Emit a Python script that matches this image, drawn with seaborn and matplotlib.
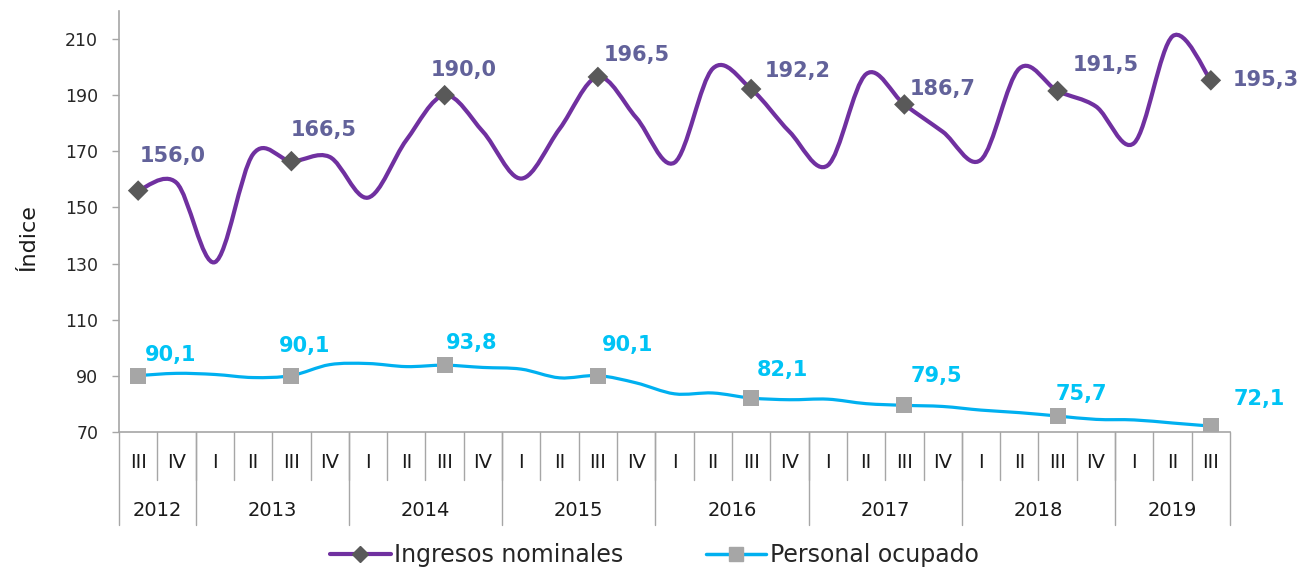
import matplotlib
matplotlib.use('Agg')
import numpy as np
import pandas as pd
import matplotlib.pyplot as plt
import seaborn as sns
from matplotlib.path import Path
from matplotlib.patches import PathPatch
from matplotlib.lines import Line2D

# Quarterly data, 2012 III .. 2019 III
quarters = ['III', 'IV',
            'I', 'II', 'III', 'IV',
            'I', 'II', 'III', 'IV',
            'I', 'II', 'III', 'IV',
            'I', 'II', 'III', 'IV',
            'I', 'II', 'III', 'IV',
            'I', 'II', 'III', 'IV',
            'I', 'II', 'III']
years = ['2012', '2013', '2014', '2015', '2016', '2017', '2018', '2019']
quarters_per_year = [2, 4, 4, 4, 4, 4, 4, 3]

ingresos = [156.0, 158.8, 130.5, 169.0, 166.5, 168.0, 153.5, 174.0, 190.0,
            177.0, 160.3, 178.0, 196.5, 182.0, 166.0, 199.5, 192.2, 177.0,
            165.0, 197.5, 186.7, 177.0, 167.0, 199.5, 191.5, 186.0, 173.0,
            211.0, 195.3]
personal = [90.1, 90.9, 90.5, 89.4, 90.1, 94.0, 94.4, 93.3, 93.8,
            93.0, 92.4, 89.3, 90.1, 87.5, 83.6, 83.9, 82.1, 81.5,
            81.7, 80.1, 79.5, 79.1, 77.8, 76.9, 75.7, 74.5, 74.3,
            73.2, 72.1]

# label offsets in pixels (text centre relative to marker)
ing_offsets = [(35, 35), (32, 31), (19, 25), (39, 22), (47, 18), (38, 15), (48, 26), (55, 0)]
per_offsets = [(32, 21), (13, 30), (27, 22), (30, 31), (31, 28), (32, 29), (24, 22), (48, 27)]

PURPLE = '#7030A0'
CYAN = '#00B0F0'
ING_LABEL = '#62629A'
PER_LABEL = '#00C3F5'
GREY = '#A6A6A6'

df = pd.DataFrame({'pos': np.arange(len(quarters)), 'quarter': quarters,
                   'ingresos': ingresos, 'personal': personal})
third = df[df['quarter'] == 'III']

sns.set_theme(style='white')
plt.rcParams['font.family'] = ['DejaVu Sans']


def smooth_path(xs, ys):
    # Excel-style smoothed line: cubic Bezier segments through each point
    pts = np.column_stack([xs, ys]).astype(float)
    p = np.vstack([pts[0], pts, pts[-1]])
    verts = [pts[0]]
    codes = [Path.MOVETO]
    for k in range(1, len(p) - 2):
        c1 = p[k] + (p[k + 1] - p[k - 1]) / 6
        c2 = p[k + 1] - (p[k + 2] - p[k]) / 6
        verts += [c1, c2, p[k + 1]]
        codes += [Path.CURVE4] * 3
    return Path(verts, codes)


fig = plt.figure(figsize=(13.09, 5.68), dpi=100)
ax = fig.add_axes([119 / 1309, 1 - 432 / 568, 1111 / 1309, 421 / 568])

ax.add_patch(PathPatch(smooth_path(df['pos'], df['ingresos']), facecolor='none',
                       edgecolor=PURPLE, lw=3.0, capstyle='round', zorder=2))
ax.add_patch(PathPatch(smooth_path(df['pos'], df['personal']), facecolor='none',
                       edgecolor=CYAN, lw=2.3, capstyle='round', zorder=2))

sns.scatterplot(data=third, x='pos', y='ingresos', marker='D', s=110,
                color='#595959', edgecolor='none', ax=ax, zorder=3, legend=False)
sns.scatterplot(data=third, x='pos', y='personal', marker='s', s=135,
                color=GREY, edgecolor='none', ax=ax, zorder=3, legend=False)

for (i, row), (dx, dy) in zip(third.iterrows(), ing_offsets):
    ax.annotate(f"{row['ingresos']:.1f}".replace('.', ','), (row['pos'], row['ingresos']),
                xytext=(dx, dy), textcoords='offset pixels', ha='center', va='center',
                fontsize=15, fontweight='bold', color=ING_LABEL)
for (i, row), (dx, dy) in zip(third.iterrows(), per_offsets):
    ax.annotate(f"{row['personal']:.1f}".replace('.', ','), (row['pos'], row['personal']),
                xytext=(dx, dy), textcoords='offset pixels', ha='center', va='center',
                fontsize=15, fontweight='bold', color=PER_LABEL)

ax.set_xlim(-0.5, len(quarters) - 0.5)
ax.set_ylim(70, 220)
ax.set_yticks(range(70, 211, 20))
ax.tick_params(axis='y', which='major', left=True, length=5, width=1, color=GREY,
               pad=10, labelsize=12.5, labelcolor='#262626')
ax.set_xticks([])
ax.set_xlabel('')
ax.set_ylabel('Índice', fontsize=16, color='#1a1a1a')
ax.yaxis.set_label_coords(-0.073, 0.462)

for side in ['top', 'right']:
    ax.spines[side].set_visible(False)
for side in ['left', 'bottom']:
    ax.spines[side].set_color(GREY)
    ax.spines[side].set_linewidth(1.2)

# two-level category axis
trans = ax.get_xaxis_transform()
for i, q in enumerate(quarters):
    ax.text(i, -31 / 421, q, transform=trans, ha='center', va='center',
            fontsize=14, color='#1a1a1a')
    if i > 0:
        ax.plot([i - 0.5, i - 0.5], [0, -48 / 421], transform=trans, color=GREY,
                lw=1, clip_on=False)
start = 0
bounds = [-0.5]
for yr, n in zip(years, quarters_per_year):
    ax.text(start + (n - 1) / 2, -78 / 421, yr, transform=trans, ha='center',
            va='center', fontsize=14, color='#1a1a1a')
    start += n
    bounds.append(start - 0.5)
for b in bounds:
    ax.plot([b, b], [0, -93 / 421], transform=trans, color=GREY, lw=1, clip_on=False)

handles = [Line2D([], [], color=PURPLE, lw=3, marker='D', ms=8,
                  markerfacecolor='#595959', markeredgecolor='#595959'),
           Line2D([], [], color=CYAN, lw=2.5, marker='s', ms=10,
                  markerfacecolor=GREY, markeredgecolor=GREY)]
fig.legend(handles, ['Ingresos nominales', 'Personal ocupado'], loc='center',
           bbox_to_anchor=(0.5, 1 - 555 / 568), ncol=2, frameon=False, fontsize=17,
           handlelength=2.55, handletextpad=0.15, columnspacing=3.5)

fig.savefig('out.png', dpi=100)
plt.close(fig)
